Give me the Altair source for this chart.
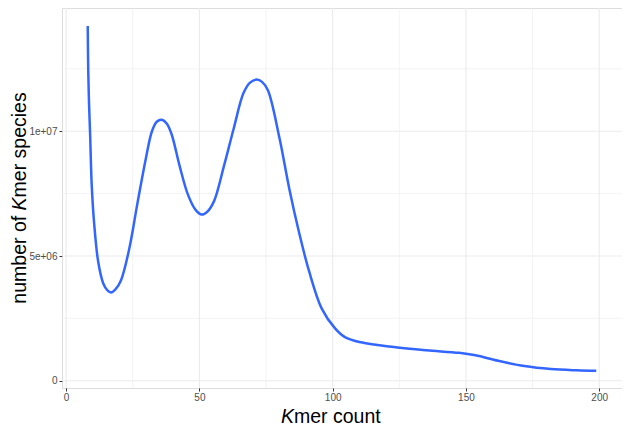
import altair as alt
import pandas as pd

# ---- data ----
kmer_count = [8.1, 8.3, 8.6, 9.0, 9.6, 10.5, 12.0, 13.9, 15.5, 16.9, 18.5, 20.6, 23.7, 26.7,
              29.8, 32.2, 34.0, 35.9, 37.8, 39.6, 42.6, 45.7, 48.5, 50.9, 53.0, 55.5, 59.2,
              62.9, 66.5, 69.0, 71.5, 73.5, 75.7, 80.0, 83.7, 87.4, 91.1, 95.9, 100.9,
              104.6, 110.7, 122.9, 135.2, 147.4, 153.6, 162.1, 171.9, 181.8, 191.5, 198.9]
species_millions = [14.22, 12.4, 11.1, 9.87, 7.84, 6.32, 4.79, 3.91, 3.62, 3.54, 3.66, 4.03,
                    5.30, 7.08, 8.85, 10.0, 10.38, 10.46, 10.3, 9.87, 8.6, 7.46, 6.86, 6.66,
                    6.78, 7.2, 8.6, 10.12, 11.52, 11.95, 12.07, 11.98, 11.64, 9.75, 7.71, 5.94,
                    4.41, 2.89, 2.10, 1.75, 1.54, 1.35, 1.22, 1.12, 1.02, 0.80, 0.59, 0.47,
                    0.42, 0.40]

x_major = [0, 50, 100, 150, 200]
x_minor = [25, 75, 125, 175]
y_major = [0, 5000000, 10000000]
y_major_labels = ["0", "5e+06", "1e+07"]
y_minor = [2500000, 7500000, 12500000]

x_title_parts = ["K", "mer count"]
y_title_parts = ["number of", "K", "mer species"]

FONT = "Liberation Sans"
TITLE_SIZE = 19.5
TICK_SIZE = 10
W, H = 560, 380
PAD_LEFT = 54

df = pd.DataFrame({"x": kmer_count, "y": [v * 1e6 for v in species_millions]})

xscale = alt.Scale(domain=[-1.55, 208.55], nice=False, zero=False)
yscale = alt.Scale(domain=[-290000, 14940000], nice=False, zero=False)

y_label_expr = " : ".join(
    f"datum.value == {v} ? '{l}'" for v, l in zip(y_major, y_major_labels)) + " : ''"

xaxis = alt.Axis(values=x_major, title=None, grid=False, domain=False, ticks=True,
                 tickColor="#333333", tickSize=3, tickWidth=1, labelColor="#4D4D4D",
                 labelFontSize=TICK_SIZE, labelFont=FONT, labelPadding=1)
yaxis = alt.Axis(values=y_major, title=None, grid=False, domain=False, ticks=True,
                 tickColor="#333333", tickSize=3, tickWidth=1, labelColor="#4D4D4D",
                 labelFontSize=TICK_SIZE, labelFont=FONT, labelPadding=2, labelExpr=y_label_expr)

grid_color = "#EBEBEB"
vminor = alt.Chart(pd.DataFrame({"x": x_minor})).mark_rule(color=grid_color, strokeWidth=0.6).encode(
    x=alt.X("x:Q", scale=xscale, axis=xaxis))
vmajor = alt.Chart(pd.DataFrame({"x": x_major})).mark_rule(color=grid_color, strokeWidth=1.1).encode(
    x=alt.X("x:Q", scale=xscale, axis=xaxis))
hminor = alt.Chart(pd.DataFrame({"y": y_minor})).mark_rule(color=grid_color, strokeWidth=0.6).encode(
    y=alt.Y("y:Q", scale=yscale, axis=yaxis))
hmajor = alt.Chart(pd.DataFrame({"y": y_major})).mark_rule(color=grid_color, strokeWidth=1.1).encode(
    y=alt.Y("y:Q", scale=yscale, axis=yaxis))

line = alt.Chart(df).mark_line(color="#3366FF", strokeWidth=2.5, interpolate="catmull-rom").encode(
    x=alt.X("x:Q", scale=xscale, axis=xaxis),
    y=alt.Y("y:Q", scale=yscale, axis=yaxis),
)


def txt(s, x, y, align, angle=0, italic=False):
    return alt.Chart(pd.DataFrame({"t": [s]})).mark_text(
        font=FONT, fontSize=TITLE_SIZE, color="black", align=align, baseline="alphabetic",
        angle=angle, fontStyle="italic" if italic else "normal",
    ).encode(text="t:N", x=alt.value(x), y=alt.value(y))


k_w = 0.667 * TITLE_SIZE
sp_w = 0.278 * TITLE_SIZE
# x title: boundary between italic K and the rest (relative to the plot area)
xb = 232.0
xt_y = 415
# y title (rotated), boundary between K and the rest
yb = 189.4
yt_x = 26 - 8 - PAD_LEFT
titles = [
    txt(x_title_parts[0], xb, xt_y, "right", italic=True),
    txt(x_title_parts[1], xb, xt_y, "left"),
    txt(y_title_parts[0], yt_x, yb + k_w + sp_w, "right", angle=270),
    txt(y_title_parts[1], yt_x, yb, "right", angle=270, italic=True),
    txt(y_title_parts[2], yt_x, yb, "left", angle=270),
]

chart = alt.layer(vminor, vmajor, hminor, hmajor, line, *titles).properties(
    width=W, height=H,
    autosize=alt.AutoSizeParams(type="none"),
    padding={"left": PAD_LEFT, "top": 0, "right": 0, "bottom": 39},
).configure_view(stroke="#333333", strokeWidth=1.1).configure(background="white")

chart.save("out.html", embed_options={"renderer": "svg", "actions": False})
